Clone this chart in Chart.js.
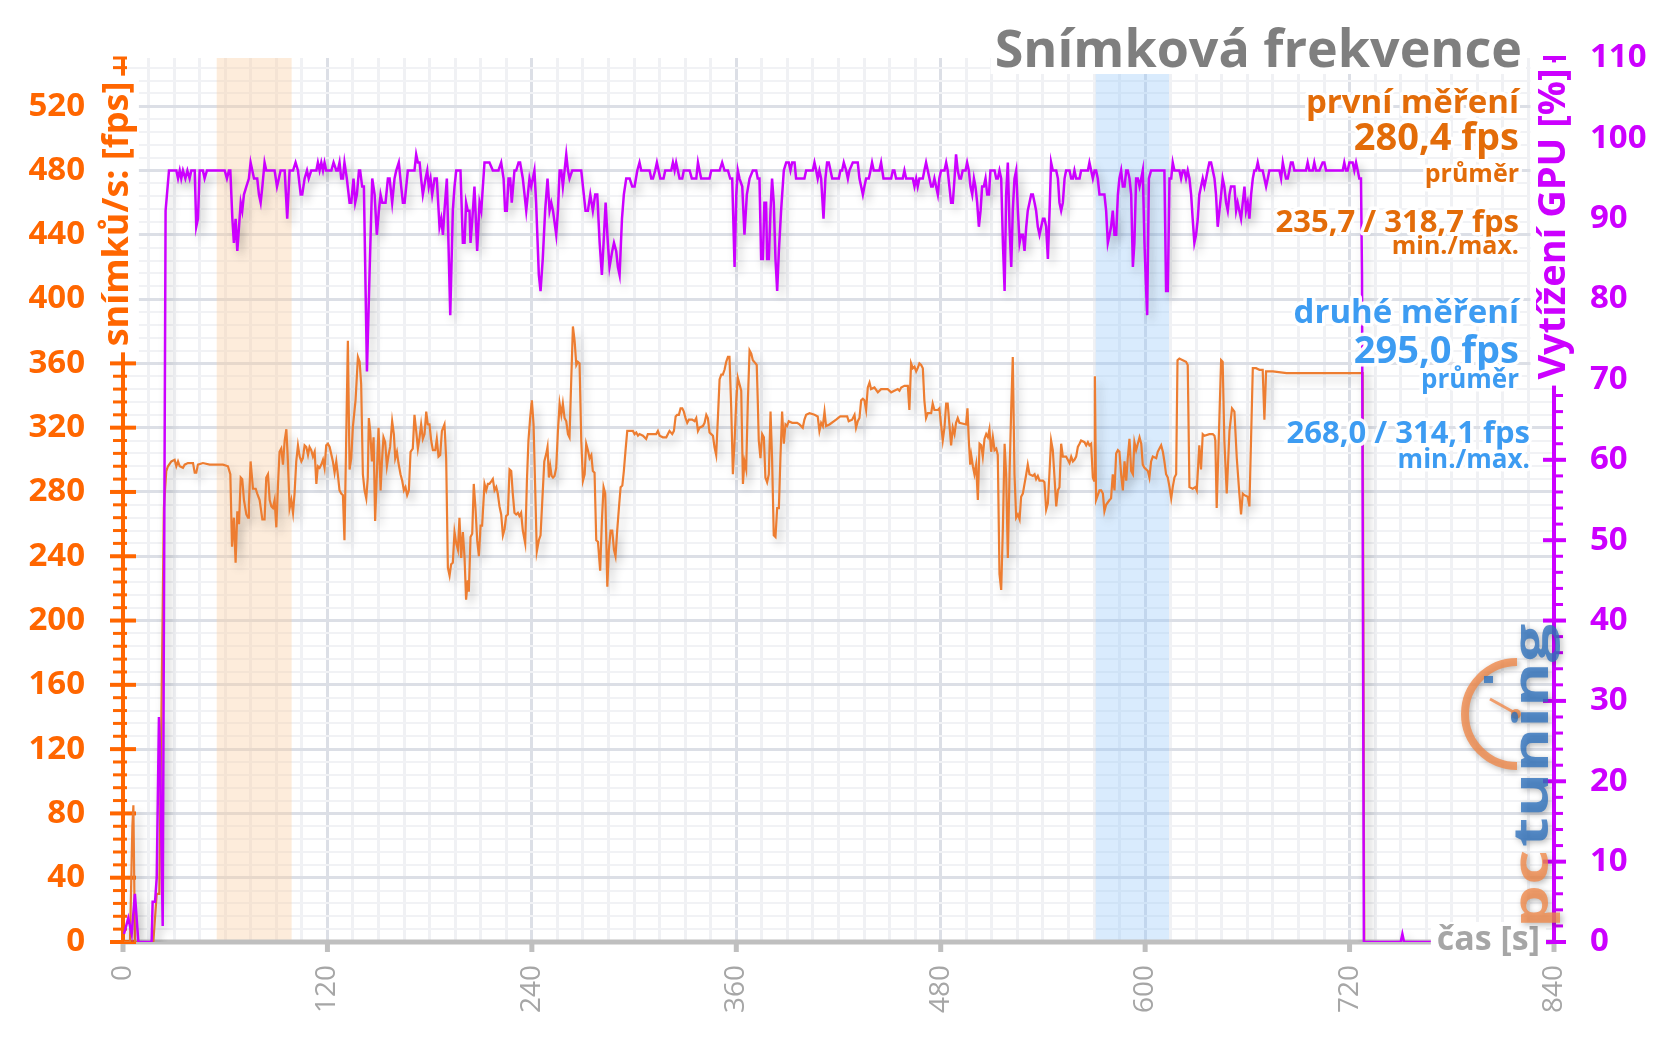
<!DOCTYPE html>
<html>
<head>
<meta charset="utf-8">
<script src="https://cdn.jsdelivr.net/npm/chart.js@4.4.1/dist/chart.umd.min.js"></script>
<style>
html, body { margin: 0; padding: 0; background: #fff; }
#obal { width: 1656px; height: 1044px; }
</style>
</head>
<body>
<div id="obal"><canvas id="graf" width="1656" height="1044"></canvas></div>
<script>
// snímková frekvence (fps) - čas v sekundách a hodnoty
var fpsCas = [
  0.6, 4.1, 5.5, 6.1, 7.0, 17.8, 19.8, 21.3, 24.0, 25.4,
  26.4, 28.4, 30.3, 31.3, 32.3, 33.3, 35.2, 36.2, 38.1, 41.1,
  42.1, 43.0, 44.0, 46.9, 50.9, 58.7, 61.6, 63.0, 64.0, 65.1,
  66.1, 67.1, 68.1, 69.1, 70.0, 71.0, 72.4, 73.4, 73.9, 74.9,
  76.3, 77.9, 78.8, 80.2, 81.8, 83.1, 84.1, 85.1, 86.1, 87.1,
  88.0, 89.0, 90.0, 91.0, 91.9, 92.9, 93.9, 94.9, 95.9, 96.8,
  97.8, 98.8, 99.8, 100.7, 101.7, 102.7, 103.7, 104.7, 105.6, 106.6,
  107.6, 108.6, 109.5, 110.5, 111.5, 112.5, 113.5, 114.4, 115.4, 116.4,
  117.4, 118.3, 119.3, 120.3, 121.3, 123.2, 124.2, 125.2, 126.1, 127.1,
  128.1, 129.1, 130.0, 132.0, 133.0, 134.0, 134.9, 136.5, 137.9, 138.9,
  139.8, 140.8, 141.8, 142.8, 143.7, 144.3, 145.1, 146.1, 147.1, 148.0,
  149.0, 150.0, 151.2, 152.0, 152.9, 153.9, 154.9, 155.9, 156.8, 158.0,
  159.0, 159.8, 160.8, 161.7, 162.9, 163.9, 164.9, 165.8, 166.8, 167.8,
  168.8, 170.1, 171.1, 172.1, 173.1, 174.1, 175.0, 176.0, 177.0, 178.0,
  178.9, 179.9, 180.9, 181.9, 183.3, 184.2, 185.2, 186.2, 187.2, 188.7,
  189.7, 190.7, 191.7, 192.6, 193.6, 194.6, 195.6, 196.6, 197.5, 198.5,
  199.5, 200.5, 201.4, 202.4, 203.0, 204.0, 205.0, 205.9, 206.9, 207.9,
  208.9, 209.9, 210.8, 212.2, 213.2, 214.2, 215.1, 216.5, 217.1, 218.1,
  219.1, 220.0, 221.0, 222.0, 223.0, 224.0, 224.9, 225.9, 226.9, 227.9,
  228.8, 229.8, 230.8, 231.8, 232.7, 233.7, 234.7, 236.1, 237.1, 238.0,
  239.0, 240.0, 241.0, 241.9, 242.9, 244.1, 245.1, 246.2, 247.3, 248.5,
  249.2, 250.0, 250.8, 251.6, 252.4, 253.3, 254.3, 255.3, 256.3, 257.3,
  258.2, 259.2, 260.2, 261.2, 262.1, 263.1, 264.1, 265.1, 266.1, 267.0,
  268.0, 269.0, 270.0, 271.0, 271.9, 272.9, 273.9, 274.9, 275.8, 276.8,
  277.8, 278.8, 280.1, 281.1, 282.1, 283.1, 284.3, 285.2, 286.2, 287.2,
  288.2, 289.1, 290.1, 291.1, 292.1, 293.1, 294.0, 295.0, 296.0, 298.0,
  299.3, 300.3, 301.3, 302.3, 303.2, 305.2, 307.1, 308.1, 310.1, 313.0,
  314.0, 315.0, 316.9, 318.9, 320.8, 322.4, 323.4, 324.4, 325.3, 326.3,
  327.3, 328.3, 329.2, 330.2, 331.2, 332.2, 334.1, 335.5, 336.5, 337.5,
  338.4, 340.4, 341.4, 342.4, 343.3, 344.3, 345.3, 346.3, 347.2, 348.2,
  349.2, 350.2, 351.2, 352.1, 353.1, 354.1, 355.1, 356.0, 357.0, 358.0,
  359.0, 360.0, 360.9, 361.9, 362.9, 363.9, 364.8, 365.8, 366.8, 367.8,
  368.8, 369.7, 371.3, 372.0, 372.6, 373.2, 374.2, 375.2, 376.2, 377.1,
  378.1, 379.1, 380.1, 381.0, 382.0, 383.0, 384.0, 385.0, 385.9, 386.9,
  387.9, 388.9, 389.8, 390.8, 392.8, 395.7, 397.1, 399.0, 400.0, 401.0,
  403.0, 405.9, 407.8, 408.8, 409.8, 410.8, 411.8, 412.7, 414.7, 418.6,
  421.0, 423.1, 425.1, 426.0, 428.0, 429.4, 430.3, 431.3, 432.3, 433.3,
  434.3, 435.2, 436.2, 437.2, 438.2, 439.1, 441.1, 443.1, 445.0, 447.0,
  448.9, 450.9, 452.8, 454.8, 455.8, 456.8, 458.7, 460.7, 461.6, 462.6,
  463.6, 464.6, 465.6, 466.5, 467.5, 468.5, 469.5, 470.4, 471.4, 472.4,
  474.4, 475.3, 476.3, 478.3, 479.2, 480.2, 481.2, 482.2, 483.2, 484.1,
  485.1, 486.1, 487.1, 488.1, 489.0, 490.0, 491.0, 494.9, 495.7, 496.5,
  497.3, 497.9, 498.9, 499.8, 500.8, 501.8, 502.8, 503.8, 504.7, 505.7,
  506.7, 507.7, 508.6, 509.6, 510.6, 511.6, 512.6, 513.5, 514.5, 515.5,
  516.5, 517.5, 518.4, 519.4, 520.4, 521.4, 522.3, 523.3, 524.3, 525.3,
  526.3, 527.2, 528.2, 529.2, 530.2, 531.1, 532.1, 534.1, 535.1, 536.0,
  537.0, 538.0, 540.0, 540.9, 541.9, 542.9, 543.9, 544.8, 545.8, 546.8,
  547.8, 548.8, 549.7, 550.7, 551.7, 553.6, 554.6, 555.6, 556.6, 557.6,
  558.5, 559.5, 560.5, 561.5, 562.4, 564.4, 565.4, 566.4, 567.3, 568.3,
  569.3, 570.0, 570.5, 571.2, 573.2, 574.2, 575.2, 576.1, 577.1, 579.1,
  580.0, 581.0, 582.0, 583.0, 584.0, 584.9, 585.9, 586.9, 587.9, 588.9,
  589.8, 590.8, 591.8, 592.8, 593.7, 594.7, 595.7, 596.7, 597.7, 598.6,
  599.6, 601.6, 602.5, 603.5, 604.5, 606.5, 607.4, 608.4, 609.4, 610.4,
  611.3, 612.3, 613.3, 614.3, 615.3, 616.2, 617.2, 618.2, 619.0, 620.1,
  622.1, 624.0, 625.0, 626.0, 627.9, 629.5, 630.3, 631.8, 632.8, 633.8,
  634.8, 637.7, 639.7, 640.7, 641.2, 642.0, 644.6, 645.5, 646.5, 647.9,
  649.5, 651.0, 652.4, 653.8, 655.3, 656.3, 657.3, 658.3, 660.2, 661.2,
  663.2, 665.1, 667.1, 669.0, 670.0, 671.0, 675.0, 683.0, 695.0, 710.0,
  720.0, 727.7, 728.6
];
var fpsHodnoty = [
  0, 0, 72, 85, 0, 0, 30, 30, 270, 293,
  296, 299, 300, 296, 299, 296, 295, 297, 298, 298,
  292, 292, 297, 298, 297, 297, 296, 291, 246, 264,
  236, 268, 260, 289, 288, 275, 266, 264, 272, 299,
  282, 282, 279, 275, 263, 263, 289, 291, 275, 271,
  270, 275, 258, 285, 305, 307, 297, 312, 319, 299,
  270, 275, 267, 279, 299, 309, 302, 299, 301, 309,
  308, 303, 308, 306, 302, 305, 285, 296, 295, 297,
  300, 295, 309, 310, 308, 299, 292, 299, 291, 281,
  279, 278, 250, 374, 294, 301, 320, 337, 364, 361,
  347, 291, 281, 276, 289, 326, 318, 299, 314, 262,
  291, 320, 281, 299, 314, 311, 296, 303, 308, 324,
  316, 301, 305, 298, 291, 287, 281, 283, 278, 281,
  305, 307, 328, 318, 307, 314, 322, 313, 316, 330,
  322, 322, 312, 306, 306, 313, 302, 303, 318, 322,
  301, 233, 228, 235, 236, 255, 248, 244, 264, 239,
  255, 239, 213, 225, 218, 252, 254, 285, 270, 250,
  240, 259, 259, 285, 281, 285, 285, 287, 288, 281,
  283, 279, 271, 266, 253, 257, 265, 266, 294, 293,
  279, 267, 266, 267, 265, 267, 256, 248, 287, 312,
  326, 337, 322, 285, 243, 250, 253, 276, 299, 304,
  308, 289, 296, 290, 289, 290, 295, 318, 335, 328,
  335, 326, 324, 316, 314, 349, 383, 374, 359, 361,
  360, 312, 287, 291, 310, 306, 301, 303, 293, 292,
  250, 249, 231, 262, 283, 279, 221, 244, 256, 256,
  244, 240, 256, 270, 283, 284, 293, 306, 318, 318,
  318, 316, 317, 315, 316, 315, 313, 316, 316, 316,
  318, 315, 314, 314, 318, 316, 318, 327, 328, 328,
  332, 332, 330, 326, 323, 325, 325, 324, 326, 318,
  320, 321, 323, 328, 326, 317, 316, 315, 308, 303,
  326, 350, 353, 353, 356, 361, 364, 364, 333, 291,
  312, 337, 351, 347, 343, 285, 299, 294, 337, 368,
  366, 362, 360, 359, 337, 312, 301, 316, 314, 289,
  286, 291, 330, 301, 253, 252, 270, 270, 301, 330,
  310, 322, 321, 324, 323, 323, 322, 320, 325, 328,
  329, 328, 327, 318, 323, 321, 330, 321, 322, 325,
  327, 327, 327, 324, 325, 328, 320, 324, 326, 337,
  338, 337, 331, 345, 348, 344, 345, 342, 344, 344,
  344, 342, 343, 344, 343, 345, 346, 346, 331, 360,
  357, 358, 355, 357, 360, 359, 357, 337, 326, 329,
  329, 335, 331, 331, 332, 322, 312, 320, 335, 335,
  322, 309, 320, 316, 323, 326, 323, 322, 332, 312,
  297, 303, 296, 291, 297, 275, 310, 309, 302, 313,
  316, 314, 319, 305, 314, 306, 307, 303, 229, 219,
  258, 310, 291, 239, 291, 332, 364, 291, 264, 266,
  263, 277, 279, 285, 291, 297, 291, 290, 291, 288,
  290, 287, 287, 286, 269, 273, 293, 312, 306, 289,
  271, 281, 283, 310, 302, 302, 300, 298, 302, 299,
  300, 302, 308, 310, 312, 311, 309, 311, 309, 310,
  289, 287, 352, 275, 281, 281, 279, 268, 272, 275,
  276, 291, 281, 304, 306, 305, 291, 281, 299, 287,
  301, 313, 293, 291, 311, 306, 310, 314, 310, 297,
  295, 293, 289, 299, 302, 301, 305, 307, 309, 305,
  299, 291, 289, 283, 276, 283, 289, 291, 362, 363,
  362, 361, 359, 283, 282, 283, 281, 309, 294, 316,
  315, 316, 316, 315, 312, 270, 362, 361, 312, 279,
  318, 332, 330, 301, 279, 266, 279, 278, 277, 271,
  357, 357, 356, 356, 325, 355, 355, 354, 354, 354,
  354, 354, 0
];

// vytížení GPU v %
var gpuCas = [
  0.6, 3.1, 5.1, 7.0, 9.0, 16.8, 17.4, 18.8, 19.8, 21.1,
  21.7, 23.3, 25.0, 27.0, 31.3, 32.3, 33.3, 34.2, 35.2, 36.6,
  37.8, 39.1, 40.1, 42.1, 43.0, 44.0, 45.0, 46.9, 47.9, 49.3,
  59.7, 61.0, 62.2, 63.0, 64.2, 65.1, 66.1, 67.1, 68.1, 69.1,
  70.0, 71.0, 72.4, 73.9, 74.9, 75.9, 76.9, 78.8, 79.8, 80.8,
  81.8, 83.1, 84.1, 89.0, 90.4, 91.5, 92.5, 94.9, 95.9, 96.4,
  97.8, 99.8, 101.3, 102.7, 104.3, 105.2, 106.6, 108.0, 109.0, 110.5,
  113.5, 114.4, 115.4, 116.4, 117.4, 118.3, 119.3, 122.3, 123.6, 125.2,
  126.1, 127.1, 128.1, 129.1, 130.0, 131.4, 133.0, 134.0, 135.3, 136.3,
  137.3, 138.5, 139.2, 140.4, 141.4, 143.2, 144.7, 146.3, 147.7, 149.0,
  150.2, 151.2, 152.2, 154.1, 155.5, 156.5, 158.0, 159.4, 160.4, 161.9,
  163.3, 164.3, 165.3, 167.2, 171.1, 172.1, 173.1, 174.1, 175.0, 176.0,
  177.6, 178.6, 179.5, 180.5, 181.5, 182.9, 184.2, 185.8, 186.8, 187.8,
  188.7, 190.1, 192.1, 193.6, 194.6, 195.6, 198.1, 199.5, 200.5, 201.4,
  202.4, 203.4, 204.0, 205.4, 206.3, 207.9, 209.3, 210.3, 212.2, 215.1,
  217.1, 220.4, 222.0, 223.4, 224.3, 225.3, 226.3, 227.3, 228.2, 229.8,
  230.8, 232.2, 233.1, 234.7, 236.7, 238.6, 239.6, 240.6, 241.5, 242.5,
  244.1, 245.1, 246.4, 247.8, 249.2, 250.4, 251.4, 252.4, 254.3, 255.3,
  256.3, 257.3, 258.2, 259.2, 260.2, 261.2, 262.1, 263.7, 269.0, 270.0,
  271.5, 272.9, 274.3, 275.8, 277.2, 278.4, 279.8, 281.1, 282.1, 283.3,
  284.6, 285.6, 287.2, 288.2, 289.5, 290.5, 291.5, 292.9, 294.0, 295.4,
  297.4, 298.9, 300.3, 301.9, 303.2, 304.2, 309.1, 310.1, 311.1, 312.4,
  313.4, 314.4, 315.4, 317.3, 318.3, 321.8, 322.8, 323.8, 324.7, 325.7,
  326.7, 328.3, 329.2, 332.6, 333.9, 336.5, 337.5, 338.4, 339.4, 344.3,
  345.3, 350.2, 351.7, 353.1, 355.1, 356.4, 357.6, 359.0, 360.0, 360.9,
  361.9, 363.5, 364.8, 366.2, 367.8, 369.7, 371.7, 372.6, 373.6, 374.6,
  375.6, 376.5, 377.5, 378.1, 379.1, 380.1, 381.0, 382.0, 383.0, 384.0,
  385.0, 386.3, 387.9, 389.3, 390.8, 391.8, 392.8, 394.2, 395.1, 400.0,
  401.0, 404.9, 405.9, 406.9, 407.8, 408.8, 409.8, 411.2, 412.3, 413.3,
  414.3, 415.3, 416.3, 420.2, 421.1, 422.1, 423.1, 424.5, 425.5, 426.4,
  428.4, 431.3, 432.3, 433.3, 434.3, 435.2, 436.2, 437.8, 438.8, 439.7,
  440.7, 444.0, 445.0, 446.4, 450.9, 451.9, 452.8, 453.8, 457.7, 458.7,
  459.7, 463.6, 464.6, 465.6, 466.5, 467.5, 469.5, 470.4, 471.4, 472.4,
  473.4, 474.4, 475.3, 476.3, 477.3, 478.3, 479.2, 480.2, 482.2, 483.2,
  484.1, 485.1, 486.1, 487.1, 488.1, 489.0, 490.0, 491.0, 491.9, 492.9,
  494.6, 495.5, 496.5, 497.5, 498.5, 499.5, 500.4, 501.4, 502.4, 503.4,
  504.3, 505.3, 506.3, 507.3, 508.3, 509.2, 511.6, 512.6, 513.5, 514.5,
  515.5, 516.5, 517.5, 518.4, 519.4, 520.4, 521.4, 522.3, 523.3, 524.3,
  525.3, 526.3, 527.2, 528.2, 529.2, 530.2, 531.1, 532.1, 533.1, 534.1,
  535.1, 536.0, 537.0, 538.0, 539.0, 540.0, 540.9, 541.9, 542.9, 543.9,
  544.8, 545.8, 547.8, 548.8, 549.7, 550.7, 551.7, 552.7, 553.6, 555.6,
  556.6, 557.6, 558.5, 559.5, 561.5, 562.4, 566.4, 567.3, 568.3, 569.3,
  570.3, 571.2, 572.2, 573.2, 576.1, 577.1, 578.1, 579.1, 580.0, 581.0,
  582.0, 583.0, 584.0, 584.9, 585.9, 586.9, 587.9, 588.9, 589.8, 590.8,
  591.8, 592.8, 593.7, 594.7, 595.7, 596.7, 597.7, 598.6, 599.6, 600.6,
  601.2, 602.2, 603.5, 611.3, 612.3, 613.3, 614.3, 615.3, 616.2, 617.2,
  620.1, 621.1, 622.1, 623.0, 624.0, 625.0, 626.0, 627.0, 627.9, 628.9,
  629.9, 630.9, 631.8, 632.8, 633.8, 634.8, 635.8, 636.7, 637.7, 638.7,
  639.7, 640.7, 641.6, 642.6, 643.6, 644.6, 645.5, 646.5, 647.5, 648.5,
  649.5, 650.4, 652.4, 653.4, 654.3, 655.3, 656.3, 657.3, 658.3, 659.2,
  660.2, 661.2, 662.2, 663.2, 664.1, 665.1, 666.1, 667.1, 669.0, 670.0,
  671.0, 672.0, 672.9, 678.8, 679.8, 680.8, 681.7, 682.7, 683.7, 684.7,
  685.6, 686.6, 687.6, 694.4, 695.4, 696.4, 698.4, 699.3, 700.3, 702.3,
  704.2, 705.2, 706.2, 716.0, 716.9, 717.9, 718.9, 719.9, 721.8, 722.8,
  723.8, 724.8, 725.7, 726.7, 727.3, 728.4, 750.0, 751.0, 752.0, 770.0
];
var gpuHodnoty = [
  1, 3, 1, 6, 0, 0, 5, 5, 8, 28,
  24, 2, 91, 96, 96, 95, 96, 95, 96, 95,
  96, 95, 96, 96, 89, 90, 96, 96, 95, 96,
  96, 95, 96, 96, 90, 87, 90, 86, 89, 92,
  91, 93, 94, 95, 97, 96, 95, 95, 93, 92,
  94, 97, 96, 96, 94, 95, 96, 96, 92, 90,
  96, 96, 97, 96, 93, 93, 95, 96, 95, 96,
  96, 97, 96, 97, 96, 97, 96, 96, 97, 96,
  96, 97, 95, 95, 97, 95, 92, 92, 95, 92,
  93, 96, 96, 94, 94, 71, 83, 95, 93, 88,
  91, 93, 92, 92, 95, 95, 92, 95, 96, 97,
  94, 92, 92, 96, 96, 98, 97, 97, 95, 93,
  95, 96, 94, 95, 93, 95, 95, 89, 90, 88,
  91, 95, 78, 91, 94, 96, 96, 87, 87, 92,
  91, 91, 87, 91, 94, 86, 92, 91, 97, 97,
  96, 96, 97, 95, 91, 91, 95, 95, 92, 96,
  96, 97, 97, 95, 91, 95, 94, 95, 96, 92,
  83, 81, 85, 91, 95, 91, 92, 91, 88, 91,
  96, 96, 94, 96, 98, 96, 95, 96, 96, 94,
  91, 91, 93, 91, 93, 93, 87, 83, 87, 92,
  87, 84, 86, 87, 86, 84, 83, 90, 93, 95,
  95, 94, 94, 96, 97, 96, 96, 95, 95, 96,
  97, 96, 95, 95, 96, 96, 97, 96, 97, 96,
  95, 95, 96, 96, 95, 95, 97, 96, 95, 95,
  96, 96, 97, 96, 96, 95, 95, 84, 93, 96,
  95, 94, 88, 93, 95, 96, 96, 95, 95, 85,
  85, 92, 92, 85, 85, 91, 95, 92, 85, 81,
  86, 91, 96, 97, 97, 96, 97, 97, 95, 95,
  96, 96, 97, 96, 95, 96, 95, 90, 95, 97,
  97, 96, 95, 95, 96, 96, 97, 96, 95, 96,
  97, 97, 95, 94, 93, 94, 95, 95, 96, 97,
  96, 96, 97, 95, 95, 96, 96, 95, 95, 96,
  95, 95, 94, 95, 94, 95, 95, 96, 97, 96,
  95, 94, 94, 95, 94, 93, 95, 96, 96, 97,
  96, 94, 92, 92, 95, 98, 96, 95, 95, 96,
  96, 97, 96, 94, 93, 95, 94, 92, 89, 91,
  94, 94, 95, 93, 93, 96, 96, 95, 95, 96,
  95, 87, 81, 93, 97, 89, 84, 91, 95, 96,
  91, 87, 88, 88, 86, 89, 91, 92, 93, 93,
  92, 91, 89, 88, 89, 90, 90, 89, 85, 91,
  97, 96, 96, 95, 92, 91, 92, 95, 96, 96,
  95, 95, 96, 95, 95, 96, 96, 97, 96, 95,
  96, 96, 95, 93, 93, 91, 87, 88, 89, 91,
  88, 88, 93, 95, 96, 94, 94, 96, 96, 95,
  93, 84, 87, 95, 95, 94, 95, 96, 87, 81,
  78, 95, 96, 96, 81, 81, 95, 95, 97, 96,
  96, 95, 96, 96, 95, 96, 95, 93, 90, 87,
  88, 90, 93, 94, 95, 94, 95, 96, 97, 97,
  96, 95, 93, 89, 91, 93, 95, 94, 92, 91,
  93, 94, 94, 91, 92, 91, 90, 92, 94, 91,
  92, 90, 93, 95, 96, 96, 97, 96, 96, 95,
  94, 95, 96, 96, 95, 97, 96, 95, 95, 96,
  97, 97, 96, 96, 97, 96, 96, 97, 96, 96,
  97, 97, 96, 96, 97, 96, 96, 97, 97, 96,
  97, 96, 95, 95, 83, 0, 0, 1, 0, 0
];

// zvýrazněné úseky měření (s)
var useky = [[55, 99], [571, 614]];

var nadpis = 'Snímková frekvence';
var prvni = ['první měření', '280,4 fps', 'průměr', '235,7 / 318,7 fps', 'min./max.'];
var druhe = ['druhé měření', '295,0 fps', 'průměr', '268,0 / 314,1 fps', 'min./max.'];

var PISMO = '"Open Sans", "DejaVu Sans", sans-serif';

function napis(ctx, text, x, y, velikost, barva, zarovnani) {
    ctx.font = 'bold ' + velikost + 'px ' + PISMO;
    ctx.textAlign = zarovnani || 'right';
    ctx.textBaseline = 'alphabetic';
    ctx.lineJoin = 'round';
    ctx.strokeStyle = 'rgba(255,255,255,0.95)';
    ctx.lineWidth = 7;
    ctx.strokeText(text, x, y);
    ctx.fillStyle = barva;
    ctx.fillText(text, x, y);
}

// svislý popisek osy s bílým podkladem
function popisOsy(ctx, text, x, y, velikost, barva) {
    ctx.save();
    ctx.translate(x, y);
    ctx.rotate(-Math.PI / 2);
    ctx.font = 'bold ' + velikost + 'px ' + PISMO;
    var w = ctx.measureText(text).width;
    ctx.fillStyle = '#fff';
    ctx.fillRect(-w / 2 - 6, -velikost * 0.62, w + 12, velikost * 1.2);
    ctx.fillStyle = barva;
    ctx.textAlign = 'center';
    ctx.textBaseline = 'middle';
    ctx.fillText(text, 0, 0);
    ctx.restore();
}

var stin = {
    id: 'stin',
    beforeDatasetDraw: function (chart) {
        var ctx = chart.ctx;
        ctx.save();
        ctx.shadowColor = 'rgba(0,0,0,0.24)';
        ctx.shadowBlur = 10;
        ctx.shadowOffsetX = 4;
        ctx.shadowOffsetY = 6;
    },
    afterDatasetDraw: function (chart) {
        chart.ctx.restore();
    }
};

var vyzdoba = {
    id: 'vyzdoba',
    beforeDatasetsDraw: function (chart) {
        var ctx = chart.ctx, a = chart.chartArea;
        var sx = chart.scales.x, sy = chart.scales.y, sy2 = chart.scales.y2;
        ctx.save();
        //zvyraznene useky
        var barvy = ['rgba(250, 205, 160, 0.38)', 'rgba(150, 200, 250, 0.36)'];
        useky.forEach(function (u, i) {
            var x0 = sx.getPixelForValue(u[0]), x1 = sx.getPixelForValue(u[1]);
            ctx.fillStyle = barvy[i];
            ctx.fillRect(x0, a.top, x1 - x0, a.bottom - a.top);
        });
        //bily podklad pod nadpisem
        ctx.font = 'bold 52px ' + PISMO;
        var wn = ctx.measureText(nadpis).width;
        ctx.fillStyle = '#fff';
        ctx.fillRect(1522 - wn - 4, a.top, wn + 8, 16);
        //osa x
        ctx.strokeStyle = '#bfbfbf';
        ctx.lineWidth = 5;
        ctx.beginPath();
        ctx.moveTo(a.left, a.bottom);
        ctx.lineTo(a.right, a.bottom);
        ctx.stroke();
        sx.ticks.forEach(function (t) {
            if (t.value % 120 !== 0) return;
            var px = sx.getPixelForValue(t.value);
            ctx.beginPath();
            ctx.moveTo(px, a.bottom);
            ctx.lineTo(px, a.bottom + 10);
            ctx.stroke();
        });
        //leva osa
        ctx.strokeStyle = '#ff6600';
        ctx.lineWidth = 4;
        ctx.beginPath();
        ctx.moveTo(a.left, a.top);
        ctx.lineTo(a.left, a.bottom + 2);
        ctx.stroke();
        sy.ticks.concat([{ value: sy.max }]).forEach(function (t) {
            var py = sy.getPixelForValue(t.value);
            var velka = t.value % 40 === 0;
            ctx.lineWidth = velka ? 4 : 3;
            ctx.beginPath();
            ctx.moveTo(a.left - (velka ? 13 : 10), py);
            ctx.lineTo(a.left + (velka ? 13 : 4), py);
            ctx.stroke();
        });
        //prava osa
        ctx.strokeStyle = '#cc00ff';
        ctx.lineWidth = 4;
        ctx.beginPath();
        ctx.moveTo(a.right, a.top);
        ctx.lineTo(a.right, a.bottom + 2);
        ctx.stroke();
        sy2.ticks.forEach(function (t) {
            var py = sy2.getPixelForValue(t.value);
            var velka = t.value % 10 === 0;
            ctx.lineWidth = velka ? 4 : 3;
            ctx.beginPath();
            ctx.moveTo(a.right - (velka ? 11 : 2), py);
            ctx.lineTo(a.right + (velka ? 12 : 9), py);
            ctx.stroke();
        });
        ctx.restore();
    },
    afterDraw: function (chart) {
        var ctx = chart.ctx, a = chart.chartArea;
        ctx.save();
        //popisky os
        popisOsy(ctx, 'snímků/s: [fps]', a.left - 5, 214, 36, '#ff6600');
        popisOsy(ctx, 'Vytížení GPU [%]', a.right, 224, 38, '#cc00ff');
        ctx.font = 'bold 34px ' + PISMO;
        var w = ctx.measureText('čas [s]').width;
        ctx.fillStyle = '#fff';
        ctx.fillRect(a.right - 14 - w - 6, a.bottom - 20, w + 12, 40);
        ctx.fillStyle = '#a6a6a6';
        ctx.textAlign = 'right';
        ctx.textBaseline = 'middle';
        ctx.fillText('čas [s]', a.right - 14, a.bottom - 2);

        //logo
        ctx.save();
        ctx.globalAlpha = 0.8;
        ctx.shadowColor = 'rgba(0,0,0,0.35)';
        ctx.shadowBlur = 6;
        ctx.shadowOffsetX = 2;
        ctx.shadowOffsetY = 2;
        ctx.strokeStyle = '#f08a4b';
        ctx.lineWidth = 8;
        ctx.beginPath();
        ctx.arc(1517, 714, 52, -Math.PI / 2, Math.PI / 2, true);
        ctx.stroke();
        ctx.lineWidth = 3;
        ctx.beginPath();
        ctx.moveTo(1517, 714);
        ctx.lineTo(1490, 699);
        ctx.stroke();
        ctx.fillStyle = '#f08a4b';
        ctx.beginPath();
        ctx.arc(1516, 714, 5, 0, Math.PI * 2);
        ctx.fill();
        ctx.fillStyle = '#2f72bd';
        ctx.fillRect(1484, 676, 9, 7);
        ctx.translate(1548, 928);
        ctx.rotate(-Math.PI / 2);
        ctx.scale(1.42, 1);
        ctx.font = 'bold 48px ' + PISMO;
        ctx.textAlign = 'left';
        ctx.textBaseline = 'alphabetic';
        ctx.fillStyle = '#f08a4b';
        ctx.fillText('pc', 0, 0);
        var wpc = ctx.measureText('pc').width;
        ctx.fillStyle = '#2f72bd';
        ctx.fillText('tuning', wpc + 2, 0);
        ctx.restore();

        //nadpis a souhrn
        napis(ctx, nadpis, 1522, 67, 52, '#7f7f7f');
        var oranz = '#e36c09', modra = '#3d9cf2';
        napis(ctx, prvni[0], 1519, 113, 33, oranz);
        napis(ctx, prvni[1], 1519, 150, 38, oranz);
        napis(ctx, prvni[2], 1519, 182, 25, oranz);
        napis(ctx, prvni[3], 1519, 232, 31, oranz);
        napis(ctx, prvni[4], 1519, 254, 25, oranz);
        napis(ctx, druhe[0], 1519, 323, 33, modra);
        napis(ctx, druhe[1], 1519, 363, 38, modra);
        napis(ctx, druhe[2], 1519, 388, 26, modra);
        napis(ctx, druhe[3], 1530, 443, 31, modra);
        napis(ctx, druhe[4], 1530, 468, 26, modra);
        ctx.restore();
    }
};

function body(casy, hodnoty) {
    return casy.map(function (t, i) { return { x: t, y: hodnoty[i] }; });
}

var ctx = document.getElementById('graf').getContext('2d');
var graf = new Chart(ctx, {
    type: 'line',
    data: {
        datasets: [{
            label: 'Vytížení GPU',
            data: body(gpuCas, gpuHodnoty),
            yAxisID: 'y2',
            borderColor: '#cc00ff',
            borderWidth: 2.5,
            pointRadius: 0,
            tension: 0,
            fill: false
        }, {
            label: 'fps',
            data: body(fpsCas, fpsHodnoty),
            yAxisID: 'y',
            borderColor: '#ed7d31',
            borderWidth: 2.2,
            pointRadius: 0,
            tension: 0,
            fill: false
        }]
    },
    options: {
        responsive: false,
        animation: false,
        devicePixelRatio: 1,
        layout: { padding: { top: 58, left: 0, right: 0, bottom: 0 } },
        plugins: { legend: { display: false }, tooltip: { enabled: false } },
        scales: {
            x: {
                type: 'linear',
                position: 'bottom',
                min: 0,
                max: 840,
                afterFit: function (s) { s.height = 102; },
                border: { display: false },
                grid: {
                    drawTicks: false,
                    lineWidth: 3,
                    color: function (c) { return c.tick && c.tick.value % 120 === 0 ? '#dcdfe6' : '#f0f1f4'; }
                },
                ticks: {
                    stepSize: 15,
                    autoSkip: false,
                    minRotation: 90,
                    maxRotation: 90,
                    padding: 23,
                    color: '#a6a6a6',
                    font: { family: PISMO, size: 28 },
                    callback: function (v) { return v % 120 === 0 ? v : ''; }
                }
            },
            y: {
                type: 'linear',
                position: 'left',
                min: 0,
                max: 550,
                afterFit: function (s) { s.width = 123; },
                border: { display: false },
                grid: {
                    drawTicks: false,
                    lineWidth: function (c) { return c.tick && c.tick.value % 40 === 0 ? 3 : 2; },
                    color: function (c) { return c.tick && c.tick.value % 40 === 0 ? '#dcdfe6' : '#f1f2f5'; }
                },
                ticks: {
                    stepSize: 8,
                    includeBounds: false,
                    autoSkip: false,
                    padding: 38,
                    color: '#ff6600',
                    font: { family: PISMO, size: 33, weight: 'bold' },
                    callback: function (v) { return v % 40 === 0 ? v : ''; }
                }
            },
            y2: {
                type: 'linear',
                position: 'right',
                min: 0,
                max: 110,
                afterFit: function (s) { s.width = 102; },
                border: { display: false },
                grid: { drawOnChartArea: false, drawTicks: false },
                ticks: {
                    stepSize: 2,
                    autoSkip: false,
                    padding: 36,
                    color: '#cc00ff',
                    font: { family: PISMO, size: 33, weight: 'bold' },
                    callback: function (v) { return v % 10 === 0 ? v : ''; }
                }
            }
        }
    },
    plugins: [stin, vyzdoba]
});
</script>
</body>
</html>
